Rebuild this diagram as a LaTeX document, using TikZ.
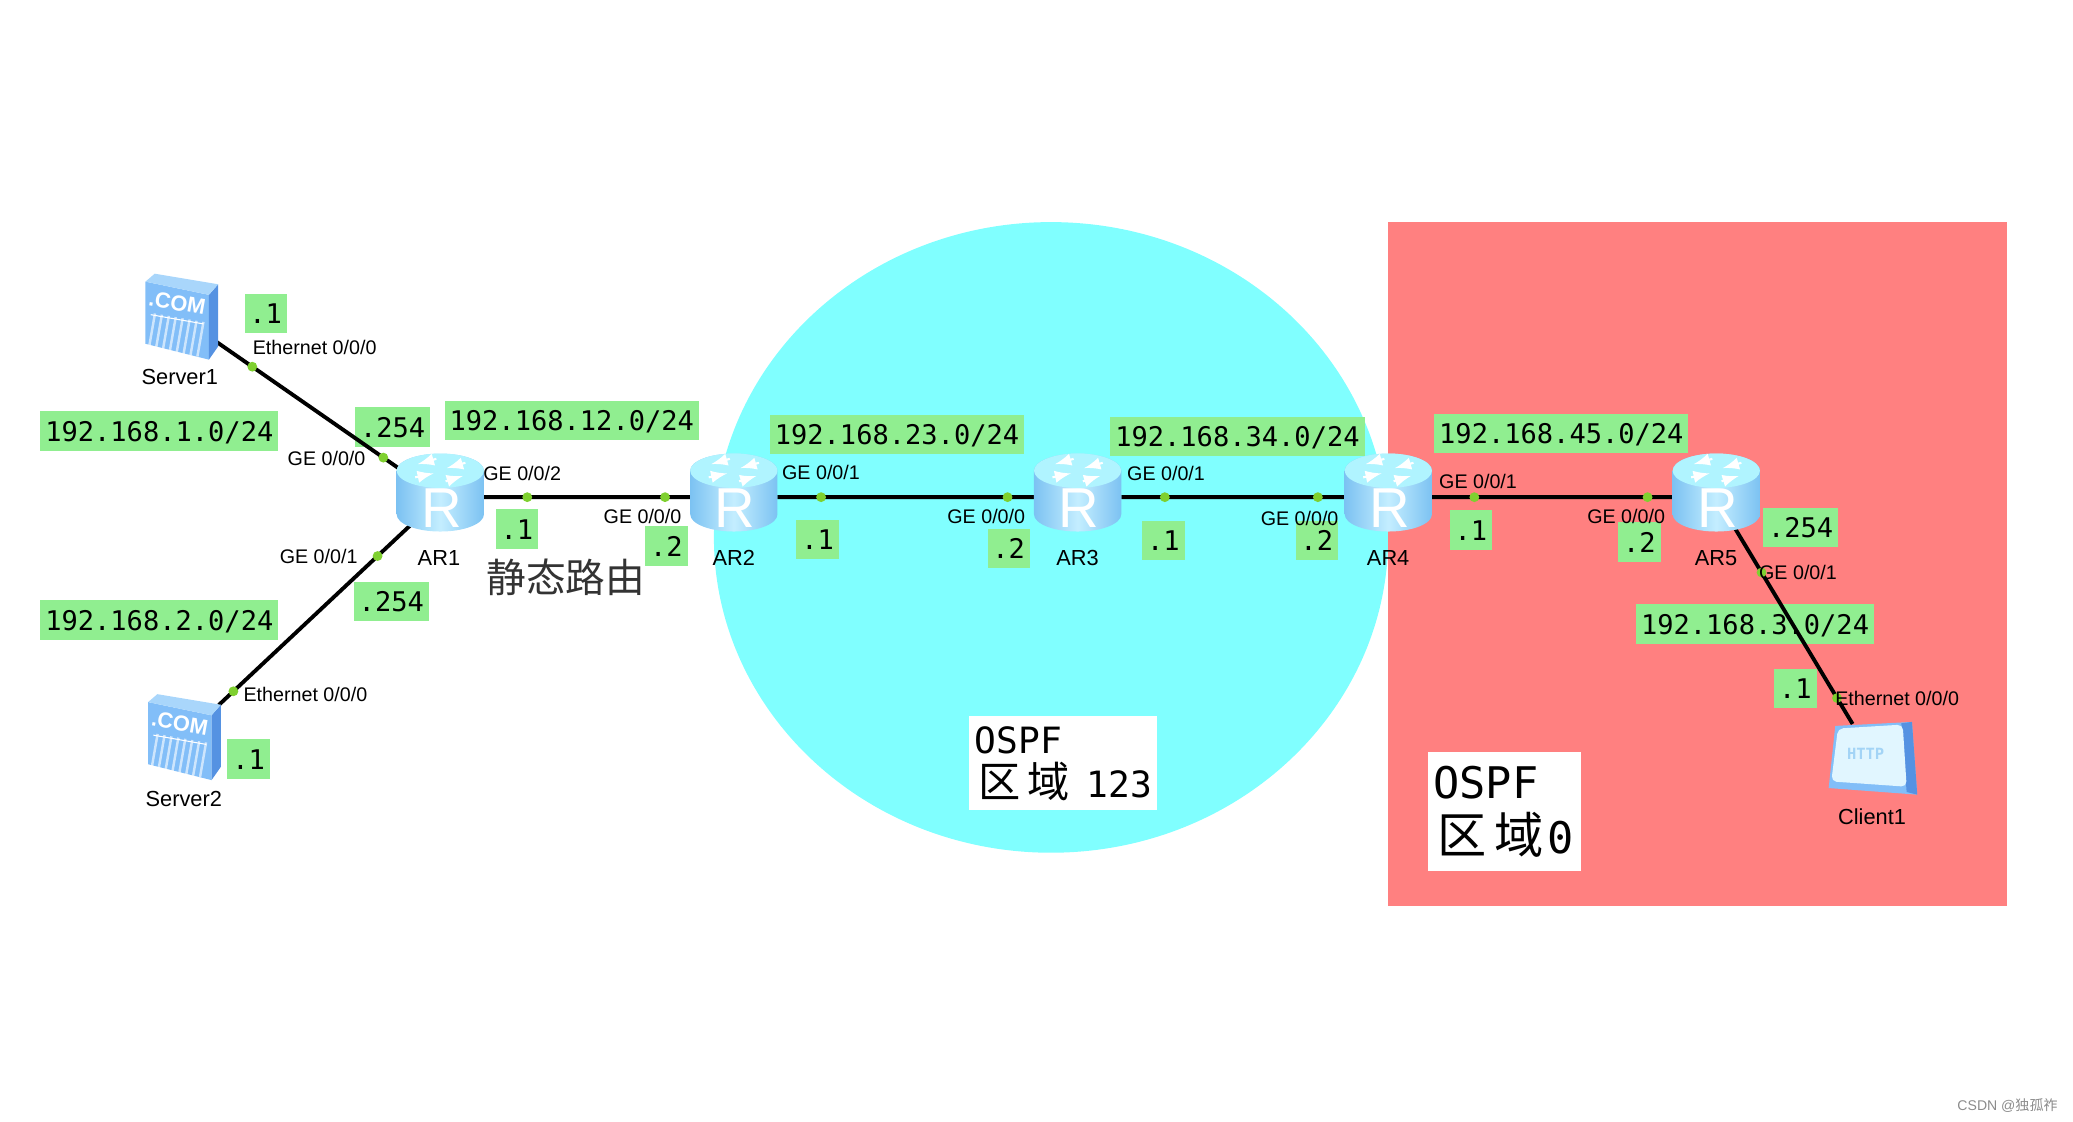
\documentclass[tikz,border=0pt]{standalone}
\usepackage{fontspec}
\setmainfont{Liberation Sans}
\newfontfamily\monofont{DejaVu Sans Mono}
\newfontfamily\cjkfont{Noto Sans CJK SC}
\usetikzlibrary{calc}

\definecolor{areacyan}{HTML}{80FFFF}
\definecolor{areared}{HTML}{FF8080}
\definecolor{addrgreen}{HTML}{90EE90}
\definecolor{portgreen}{HTML}{7FD030}
\definecolor{routeredge}{HTML}{7CC2F2}
\definecolor{routermid}{HTML}{C4EEFF}
\definecolor{routertop}{HTML}{B0F4FF}
\definecolor{serverfront}{HTML}{82BEF8}
\definecolor{serverside}{HTML}{5592E2}
\definecolor{servertop}{HTML}{A9D6FB}

\newcommand{\portfont}{\fontsize{5.6}{6}\selectfont}
\newcommand{\devfont}{\fontsize{6.2}{7}\selectfont}
\newcommand{\addrfont}{\fontsize{7.7}{8}\monofont}

\tikzset{
	routericon/.pic={
		\path [left color=routeredge,right color=routeredge,middle color=routermid] (-.33,.2) -- (-.33,-.13) arc [start angle=180,end angle=360,x radius=.33,y radius=.13] -- (.33,.2) arc [start angle=0,end angle=180,x radius=.33,y radius=.13] -- cycle;
		\fill [routertop] (0,.2) ellipse [x radius=.33,y radius=.13];
		\draw [white,line width=.6pt,-latex] (-.03,.29) -- (-.17,.25);
		\draw [white,line width=.6pt,-latex] (.19,.26) -- (.05,.22);
		\draw [white,line width=.6pt,-latex] (.04,.12) -- (.17,.16);
		\draw [white,line width=.6pt,-latex] (-.19,.15) -- (-.05,.18);
		\node (-glyph) at (.01,-.085) [text=white,font=\fontsize{16}{16}\selectfont] {R};
	},
	servericon/.pic={
		\fill [serverfront] (-.27,.27) -- (.21,.17) -- (.21,-.32) -- (-.27,-.20) -- cycle;
		\fill [serverside] (.21,.17) -- (.28,.25) -- (.28,-.22) -- (.21,-.32) -- cycle;
		\fill [servertop] (-.27,.27) -- (-.20,.33) -- (.28,.25) -- (.21,.17) -- cycle;
		\node (-glyph) at (-.03,.11) [text=white,rotate=-10,font=\fontsize{6.2}{7}\selectfont\bfseries] {.COM};
		\draw [white,line width=.3pt] (-.23,.02) -- (.17,-.05);
		\draw [white,line width=10pt,dash pattern=on .7pt off 1.3pt,opacity=.6] (-.23,-.10) -- (.17,-.17);
	},
	clienticon/.pic={
		\fill [serverfront] (-.29,.25) -- (.29,.28) -- (.33,-.27) -- (-.34,-.22) -- cycle;
		\fill [serverside] (.21,.27) -- (.29,.28) -- (.33,-.27) -- (.25,-.25) -- cycle;
		\fill [rounded corners=1.5pt,fill=routermid!50!white] (-.27,.23) -- (.22,.26) -- (.25,-.21) -- (-.32,-.17) -- cycle;
		\node (-glyph) at (-.06,.04) [text=routeredge!70!white,font=\fontsize{4.4}{5}\monofont\bfseries] {HTTP};
	}
}

\begin{document}
\begin{tikzpicture}[scale=1.3221,every node/.style={outer sep=0pt},every pic/.style={scale=1.3221}]
	
	\tikzstyle{router}=[draw=none,minimum width=.873cm,minimum height=.55cm]
	\tikzstyle{server}=[draw=none,minimum width=.70cm,minimum height=.85cm]
	\tikzstyle{addr}=[fill=addrgreen,inner xsep=1.4pt,inner ysep=0pt,minimum height=11.2pt,text height=5.8pt,text depth=0pt,font=\addrfont]
	\tikzstyle{link}=[line width=1.1pt]
	\tikzstyle{port}=[circle,fill=portgreen,minimum size=2.8pt,inner sep=0pt]
	\tikzstyle{ifname}=[inner sep=0pt,font=\portfont]
	\tikzstyle{devname}=[inner sep=0pt,font=\devfont]
	\tikzstyle{areabox}=[fill=white,inner sep=0pt,align=left]
	
	\useasboundingbox (0cm,0cm) rectangle (15.68cm,-8.48cm);
	
	% OSPF areas
	\fill [areacyan] (7.95cm,-4.065cm) ellipse [x radius=2.55cm,y radius=2.385cm];
	\fill [areared] (10.5cm,-1.68cm) rectangle (15.18cm,-6.85cm);
	\node (area123) at (8.04cm,-5.775cm) [areabox,minimum width=1.88cm,minimum height=.94cm,text width=1.76cm] {\fontsize{10.3}{12.5}\monofont OSPF\\[.5pt]\mbox{{\cjkfont\fontsize{12}{13}\selectfont\hspace*{1pt}区\,域}\hspace{1.5pt}\fontsize{10.3}{13}\monofont\ 123}};
	\node (area0) at (11.38cm,-6.14cm) [areabox,minimum width=1.53cm,minimum height=1.19cm,text width=1.42cm] {\fontsize{12.4}{15}\monofont OSPF\\[3.5pt]\mbox{{\cjkfont\fontsize{14}{16}\selectfont\hspace*{1pt}区\,域}\hspace{1pt}\fontsize{12.4}{16}\monofont 0}};
	
	\node (ar1) at (3.33cm,-3.76cm) [router] {};
	\node (ar2) at (5.55cm,-3.76cm) [router] {};
	\node (ar3) at (8.15cm,-3.76cm) [router] {};
	\node (ar4) at (10.5cm,-3.76cm) [router] {};
	\node (ar5) at (12.98cm,-3.76cm) [router] {};
	\node (server1) at (1.37cm,-2.40cm) [server] {};
	\node (server2) at (1.39cm,-5.58cm) [server] {};
	\node (client1) at (14.17cm,-5.74cm) [server,minimum height=.7cm] {};
	
	% addresses
	\node (net1) at (1.205cm,-3.26cm) [addr] {192.168.1.0/24};
	\node (net2) at (1.205cm,-4.69cm) [addr] {192.168.2.0/24};
	\node (net12) at (4.325cm,-3.18cm) [addr] {192.168.12.0/24};
	\node (net23) at (6.785cm,-3.285cm) [addr] {192.168.23.0/24};
	\node (net34) at (9.36cm,-3.30cm) [addr] {192.168.34.0/24};
	\node (net45) at (11.81cm,-3.28cm) [addr] {192.168.45.0/24};
	\node (net3) at (13.275cm,-4.72cm) [addr] {192.168.3.0/24};
	\node (ip1) at (2.01cm,-2.37cm) [addr] {.1};
	\node (ip2) at (2.97cm,-3.23cm) [addr] {.254};
	\node (ip3) at (2.96cm,-4.55cm) [addr] {.254};
	\node (ip4) at (1.88cm,-5.74cm) [addr] {.1};
	\node (ip5) at (3.91cm,-4.00cm) [addr] {.1};
	\node (ip6) at (5.04cm,-4.13cm) [addr] {.2};
	\node (ip7) at (6.185cm,-4.08cm) [addr] {.1};
	\node (ip8) at (7.63cm,-4.15cm) [addr] {.2};
	\node (ip9) at (8.80cm,-4.09cm) [addr] {.1};
	\node (ip10) at (9.96cm,-4.09cm) [addr] {.2};
	\node (ip11) at (11.125cm,-4.01cm) [addr] {.1};
	\node (ip12) at (12.40cm,-4.10cm) [addr] {.2};
	\node (ip13) at (13.62cm,-3.99cm) [addr] {.254};
	\node (ip14) at (13.58cm,-5.21cm) [addr] {.1};
	
	\draw [link] (server1) -- (ar1) node[port,pos=.196] (d1a) {} node[port,pos=.906] (d1b) {};
	\draw [link] (server2) -- (ar1) node[port,pos=.076] (d2a) {} node[port,pos=.826] (d2b) {};
	\draw [link] (ar1) -- (ar2) node[port,pos=.21] (d3a) {} node[port,pos=.878] (d3b) {};
	\draw [link] (ar2) -- (ar3) node[port,pos=.17] (d4a) {} node[port,pos=.897] (d4b) {};
	\draw [link] (ar3) -- (ar4) node[port,pos=.195] (d5a) {} node[port,pos=.88] (d5b) {};
	\draw [link] (ar4) -- (ar5) node[port,pos=.176] (d6a) {} node[port,pos=.896] (d6b) {};
	\draw [link] (ar5) -- (client1) node[port,pos=.24] (d7a) {} node[port,pos=.87] (d7b) {};
	
	\pic (icon1) at (ar1) {routericon};
	\pic (icon2) at (ar2) {routericon};
	\pic (icon3) at (ar3) {routericon};
	\pic (icon4) at (ar4) {routericon};
	\pic (icon5) at (ar5) {routericon};
	\pic (icon6) at (server1) {servericon};
	\pic (icon7) at (server2) {servericon};
	\pic (icon8) at (client1) {clienticon};
	
	\node (name1) at (3.32cm,-4.22cm) [devname] {AR1};
	\node (name2) at (5.55cm,-4.22cm) [devname] {AR2};
	\node (name3) at (8.15cm,-4.22cm) [devname] {AR3};
	\node (name4) at (10.5cm,-4.22cm) [devname] {AR4};
	\node (name5) at (12.98cm,-4.22cm) [devname] {AR5};
	\node (name6) at (1.36cm,-2.85cm) [devname] {Server1};
	\node (name7) at (1.39cm,-6.04cm) [devname] {Server2};
	\node (name8) at (14.16cm,-6.18cm) [devname] {Client1};
	
	\node (if1) at (2.38cm,-2.63cm) [ifname] {Ethernet 0/0/0};
	\node (if2) at (2.47cm,-3.47cm) [ifname] {GE 0/0/0};
	\node (if3) at (2.41cm,-4.21cm) [ifname] {GE 0/0/1};
	\node (if4) at (2.31cm,-5.25cm) [ifname] {Ethernet 0/0/0};
	\node (if5) at (3.95cm,-3.58cm) [ifname] {GE 0/0/2};
	\node (if6) at (4.86cm,-3.91cm) [ifname] {GE 0/0/0};
	\node (if7) at (6.21cm,-3.57cm) [ifname] {GE 0/0/1};
	\node (if8) at (7.46cm,-3.91cm) [ifname] {GE 0/0/0};
	\node (if9) at (8.82cm,-3.58cm) [ifname] {GE 0/0/1};
	\node (if10) at (9.83cm,-3.92cm) [ifname] {GE 0/0/0};
	\node (if11) at (11.18cm,-3.64cm) [ifname] {GE 0/0/1};
	\node (if12) at (12.30cm,-3.91cm) [ifname] {GE 0/0/0};
	\node (if13) at (13.60cm,-4.33cm) [ifname] {GE 0/0/1};
	\node (if14) at (14.35cm,-5.28cm) [ifname] {Ethernet 0/0/0};
	
	\node (static) at (4.28cm,-4.37cm) [inner sep=0pt,text=black!80,font=\cjkfont\fontsize{11.3}{12}\selectfont] {静态路由};
	\node (mark) at (15.185cm,-8.36cm) [inner sep=0pt,text=black!45,font=\fontsize{4}{5}\selectfont] {CSDN @{\cjkfont 独孤祚}};
	
\end{tikzpicture}
\end{document}
